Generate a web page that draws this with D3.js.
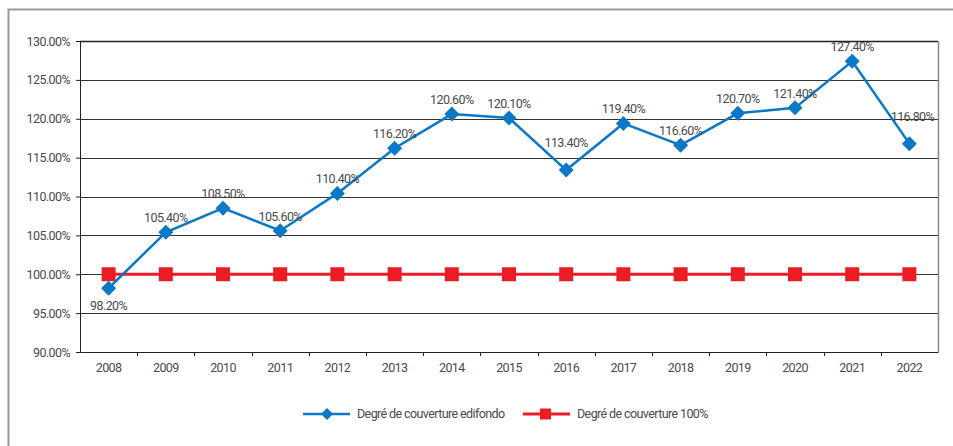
<!DOCTYPE html>
<html>
<head>
<meta charset="utf-8">
<script src="https://cdn.jsdelivr.net/npm/d3@7"></script>
<style>
    body { margin: 0; background: #fff; }
    svg text { font-family: Roboto, "DejaVu Sans Condensed", sans-serif; fill: #4a4a4a; letter-spacing: -0.6px; }
</style>
</head>
<body>
<div id="content"></div>
<script>
// ======= data =======
var years = ["2008","2009","2010","2011","2012","2013","2014","2015","2016","2017","2018","2019","2020","2021","2022"];
var edifondo = [98.2, 105.4, 108.5, 105.6, 110.4, 116.2, 120.6, 120.1, 113.4, 119.4, 116.6, 120.7, 121.4, 127.4, 116.8];
var target = [100, 100, 100, 100, 100, 100, 100, 100, 100, 100, 100, 100, 100, 100, 100];
var yTicks = [90, 95, 100, 105, 110, 115, 120, 125, 130];
var seriesNames = ["Degré de couverture edifondo", "Degré de couverture 100%"];

// ======= formatting =======
var blue = "#0a78c6";
var red = "#ec1c24";
var width = 953, height = 446;
var plot = {left: 80, top: 41, right: 938, bottom: 352};
var fontSize = "12.5px";

var svg = d3.select("#content").append("svg")
    .attr("width", width)
    .attr("height", height);

// == outer frame
svg.append("path")
    .attr("d", "M8.5," + height + "V9.5H" + width)
    .attr("fill", "none")
    .attr("stroke", "#999")
    .attr("stroke-width", 2);

// ======= scales =======
var xScale = d3.scaleBand()
    .domain(years)
    .range([plot.left, plot.right]);
var yScale = d3.scaleLinear()
    .domain([90, 130])
    .range([plot.bottom, plot.top]);

// ======= gridlines =======
svg.append("g")
    .selectAll("line")
    .data(yTicks.slice(1))
    .enter()
    .append("line")
        .attr("x1", plot.left)
        .attr("x2", plot.right)
        .attr("y1", function(d) { return Math.round(yScale(d)) + 0.5; })
        .attr("y2", function(d) { return Math.round(yScale(d)) + 0.5; })
        .attr("stroke", function(d) { return d == 130 ? "#222" : "#333"; })
        .attr("stroke-width", function(d) { return d == 130 ? 1.3 : 1; });

// == right border
svg.append("line")
    .attr("x1", plot.right + 0.5).attr("x2", plot.right + 0.5)
    .attr("y1", plot.top).attr("y2", plot.bottom)
    .attr("stroke", "#888")
    .attr("stroke-width", 1.5);

// ======= y axis =======
var yAxis = svg.append("g")
    .attr("transform", "translate(" + plot.left + ",0)")
    .call(d3.axisLeft(yScale)
        .tickValues(yTicks)
        .tickSize(4)
        .tickPadding(6)
        .tickFormat(function(d) { return d.toFixed(2) + "%"; }));
yAxis.select(".domain").attr("stroke", "#222");
yAxis.selectAll(".tick line").attr("stroke", "#222");
yAxis.selectAll("text").style("font-size", fontSize).attr("fill", "#4a4a4a");

// ======= x axis =======
var xAxis = svg.append("g")
    .attr("transform", "translate(0," + plot.bottom + ")")
    .call(d3.axisBottom(xScale).tickSize(0).tickPadding(11));
xAxis.select(".domain").attr("stroke", "#222");
xAxis.selectAll("text").style("font-size", fontSize).attr("fill", "#4a4a4a");

// == ticks between categories
xAxis.selectAll(".sep")
    .data(years.slice(1))
    .enter()
    .append("line")
        .attr("class", "sep")
        .attr("x1", function(d) { return Math.round(xScale(d)) + 0.5; })
        .attr("x2", function(d) { return Math.round(xScale(d)) + 0.5; })
        .attr("y1", 0)
        .attr("y2", 4)
        .attr("stroke", "#222");

function cx(i) { return xScale(years[i]) + xScale.bandwidth() / 2; }

// ======= red line =======
var line = d3.line()
    .x(function(d, i) { return cx(i); })
    .y(function(d) { return yScale(d); });

svg.append("path")
    .datum(target)
    .attr("d", line)
    .attr("fill", "none")
    .attr("stroke", red)
    .attr("stroke-width", 3);

svg.append("g")
    .selectAll("rect")
    .data(target)
    .enter()
    .append("rect")
        .attr("x", function(d, i) { return cx(i) - 7; })
        .attr("y", function(d) { return yScale(d) - 7; })
        .attr("width", 14)
        .attr("height", 14)
        .attr("fill", red);

// ======= blue line =======
svg.append("path")
    .datum(edifondo)
    .attr("d", line)
    .attr("fill", "none")
    .attr("stroke", blue)
    .attr("stroke-width", 2.5);

var diamond = "M0,-7.5L7.5,0L0,7.5L-7.5,0Z";
svg.append("g")
    .selectAll("path")
    .data(edifondo)
    .enter()
    .append("path")
        .attr("d", diamond)
        .attr("transform", function(d, i) { return "translate(" + cx(i) + "," + yScale(d) + ")"; })
        .attr("fill", blue);

// == data labels (2008 below, 2016 + 2022 pushed higher)
svg.append("g")
    .selectAll("text")
    .data(edifondo)
    .enter()
    .append("text")
        .attr("x", function(d, i) { return i == years.length - 1 ? cx(i) + 3 : cx(i); })
        .attr("y", function(d, i) {
            if (i == 0) return yScale(d) + 22;
            if (i == 8 || i == years.length - 1) return yScale(d) - 23;
            return yScale(d) - 10;
        })
        .attr("text-anchor", "middle")
        .style("font-size", fontSize)
        .text(function(d) { return d.toFixed(2) + "%"; });

// ======= legend =======
var legendY = 414;
var legend = svg.append("g");
var legendItems = [
    {x: 303, color: blue, name: seriesNames[0], shape: "diamond"},
    {x: 523, color: red, name: seriesNames[1], shape: "square"}
];
legendItems.forEach(function(item) {
    legend.append("line")
        .attr("x1", item.x).attr("x2", item.x + 47)
        .attr("y1", legendY).attr("y2", legendY)
        .attr("stroke", item.color)
        .attr("stroke-width", item.shape == "square" ? 3 : 2.5);
    if (item.shape == "diamond") {
        legend.append("path")
            .attr("d", "M0,-6L6,0L0,6L-6,0Z")
            .attr("transform", "translate(" + (item.x + 24) + "," + legendY + ")")
            .attr("fill", item.color);
    } else {
        legend.append("rect")
            .attr("x", item.x + 17).attr("y", legendY - 5.5)
            .attr("width", 11).attr("height", 11)
            .attr("fill", item.color);
    }
    legend.append("text")
        .attr("x", item.x + 54)
        .attr("y", legendY + 4)
        .style("font-size", fontSize)
        .text(item.name);
});
</script>
</body>
</html>
